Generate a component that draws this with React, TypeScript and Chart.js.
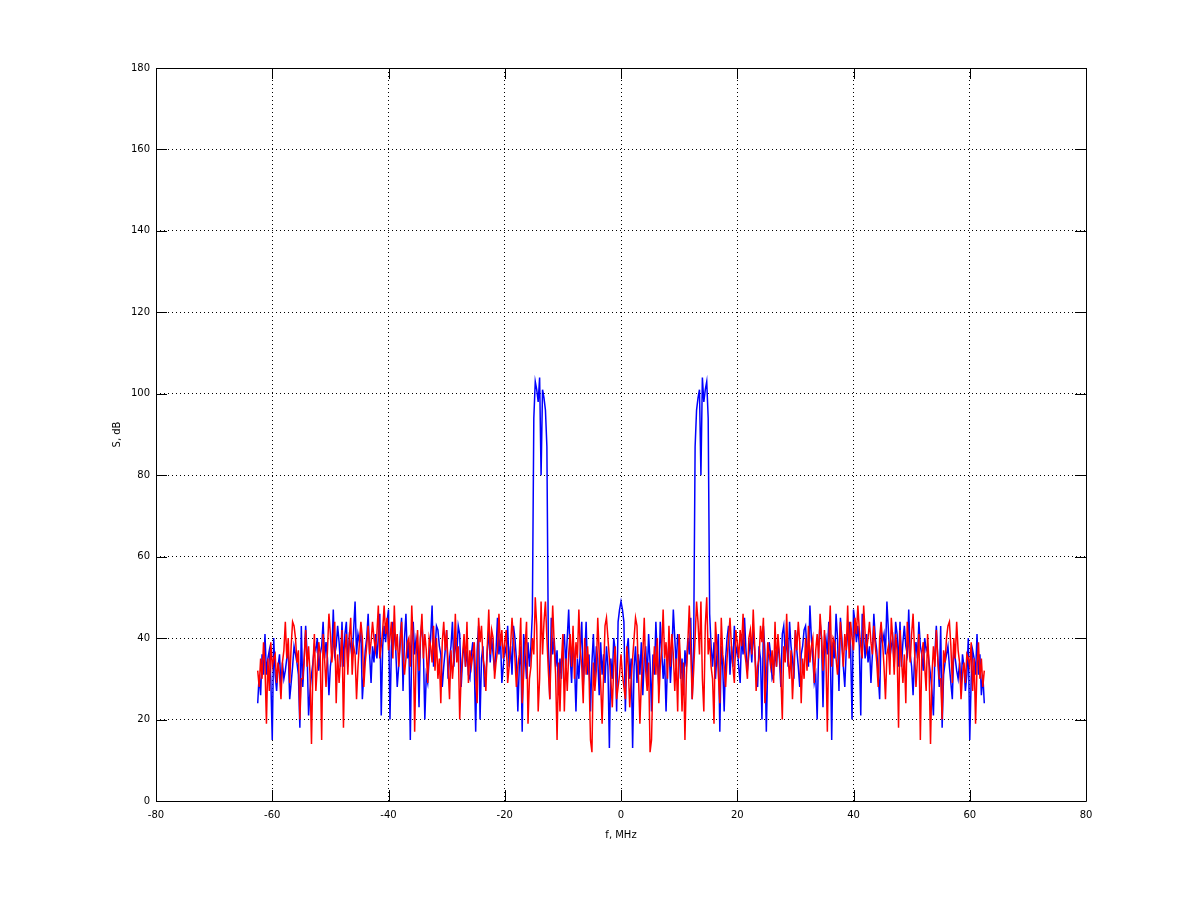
import React, { useEffect, useRef } from 'react';
import { Chart, registerables } from 'chart.js';

Chart.register(...registerables);

// spacing between spectrum samples, MHz
const FREQ_STEP = 0.25;
const X_TICKS = [-80, -60, -40, -20, 0, 20, 40, 60, 80];
const Y_TICKS = [0, 20, 40, 60, 80, 100, 120, 140, 160, 180];
const X_LABEL = 'f, MHz';
const Y_LABEL = 'S, dB';

// spectrum levels (dB) from 0 to +62.5 MHz, 20 samples per 5 MHz row;
// the plotted spectrum is mirror-symmetric about 0 MHz
const blueHalf = [
  49, 47, 44, 22, 37, 40, 30, 35, 13, 33, 38, 29, 36, 31, 39, 26, 35, 38, 30, 41,
  34, 22, 36, 31, 44, 35, 28, 44, 37, 30, 35, 22, 34, 39, 29, 36, 47, 40, 33, 41,
  38, 30, 35, 26, 37, 33, 40, 36, 45, 25, 38, 87, 96, 99, 101, 80, 104, 98, 101, 103,
  94, 46, 38, 33, 39, 30, 36, 41, 17, 38, 33, 22, 35, 40, 43, 31, 38, 33, 43, 36,
  38, 33, 29, 41, 36, 45, 37, 32, 36, 40, 34, 42, 37, 31, 28, 38, 35, 20, 43, 37,
  17, 34, 39, 36, 30, 31, 37, 33, 39, 35, 28, 41, 43, 36, 40, 33, 44, 38, 35, 30,
  42, 37, 33, 28, 36, 38, 42, 43, 37, 33, 48, 40, 35, 29, 31, 20, 37, 44, 40, 23,
  38, 40, 36, 44, 38, 15, 39, 35, 46, 40, 27, 45, 40, 33, 28, 37, 41, 44, 38, 20,
  47, 44, 39, 43, 38, 21, 46, 40, 35, 41, 34, 38, 29, 36, 46, 40, 37, 31, 25, 42,
  39, 41, 36, 49, 42, 35, 38, 40, 33, 44, 41, 33, 44, 33, 39, 43, 38, 36, 47, 36,
  33, 26, 35, 39, 35, 44, 38, 36, 32, 40, 37, 38, 34, 31, 27, 21, 36, 43, 35, 28,
  43, 18, 31, 34, 36, 38, 33, 29, 25, 37, 35, 32, 30, 34, 28, 36, 33, 27, 31, 40,
  15, 30, 37, 35, 31, 41, 31, 36, 26, 31, 24,
];

const redHalf = [
  36, 31, 28, 25, 38, 33, 23, 30, 35, 40, 45, 43, 31, 19, 29, 36, 45, 32, 27, 34,
  12, 15, 31, 38, 31, 40, 24, 33, 37, 47, 35, 39, 30, 43, 33, 41, 36, 27, 35, 22,
  41, 34, 22, 34, 15, 31, 39, 48, 37, 25, 32, 40, 49, 44, 36, 49, 30, 22, 43, 50,
  36, 40, 33, 30, 19, 44, 38, 31, 24, 45, 36, 33, 28, 35, 40, 45, 38, 33, 29, 42,
  39, 35, 42, 38, 46, 37, 34, 30, 40, 42, 36, 47, 38, 27, 33, 35, 43, 39, 45, 24,
  30, 39, 36, 33, 37, 29, 44, 33, 41, 36, 31, 20, 38, 34, 46, 35, 30, 37, 25, 33,
  42, 37, 44, 39, 24, 35, 30, 40, 32, 43, 34, 38, 40, 29, 37, 41, 35, 46, 40, 32,
  42, 36, 17, 39, 48, 33, 40, 39, 35, 31, 36, 44, 38, 33, 41, 37, 48, 35, 44, 40,
  37, 45, 41, 48, 42, 38, 35, 48, 41, 37, 40, 44, 39, 36, 43, 38, 34, 28, 40, 44,
  39, 33, 25, 36, 38, 31, 45, 40, 31, 41, 37, 18, 42, 35, 29, 36, 24, 44, 38, 34,
  41, 46, 37, 28, 35, 41, 15, 36, 39, 33, 27, 41, 33, 14, 31, 38, 33, 42, 35, 30,
  30, 20, 37, 34, 40, 43, 44, 38, 29, 40, 35, 44, 37, 34, 25, 31, 34, 29, 36, 35,
  33, 39, 27, 35, 19, 33, 39, 30, 35, 28, 32,
];

// negative frequencies first, then 0..+62.5
function mirrorSpectrum(half: number[]) {
  const pts: { x: number; y: number }[] = [];
  for (let i = half.length - 1; i > 0; i--) pts.push({ x: -i * FREQ_STEP, y: half[i] });
  for (let i = 0; i < half.length; i++) pts.push({ x: i * FREQ_STEP, y: half[i] });
  return pts;
}

const FONT = { family: "'DejaVu Sans', sans-serif", size: 10 };
const TICK_LEN = 11;

// solid box with inward tick marks on all four sides (octave look)
const framePlugin = {
  id: 'frame',
  afterDraw(chart: Chart) {
    const { ctx, chartArea, scales } = chart;
    const { left, right, top, bottom } = chartArea;
    ctx.save();
    ctx.strokeStyle = '#000';
    ctx.lineWidth = 1;
    ctx.beginPath();
    ctx.rect(left + 0.5, top + 0.5, right - left, bottom - top);
    X_TICKS.forEach((v) => {
      const x = Math.round(scales.x.getPixelForValue(v)) + 0.5;
      ctx.moveTo(x, bottom);
      ctx.lineTo(x, bottom - TICK_LEN);
      ctx.moveTo(x, top);
      ctx.lineTo(x, top + TICK_LEN);
    });
    Y_TICKS.forEach((v) => {
      const y = Math.round(scales.y.getPixelForValue(v)) + 0.5;
      ctx.moveTo(left, y);
      ctx.lineTo(left + TICK_LEN, y);
      ctx.moveTo(right, y);
      ctx.lineTo(right - TICK_LEN, y);
    });
    ctx.stroke();
    ctx.restore();
  },
};

const SpectrumChart: React.FC = () => {
  const chartRef = useRef<HTMLCanvasElement>(null);
  const chartInstance = useRef<Chart | null>(null);

  useEffect(() => {
    if (!chartRef.current) return;
    if (chartInstance.current) chartInstance.current.destroy();

    chartInstance.current = new Chart(chartRef.current, {
      type: 'line',
      data: {
        datasets: [
          {
            label: 'blue',
            data: mirrorSpectrum(blueHalf),
            borderColor: '#0000ff',
            borderWidth: 1.5,
            pointRadius: 0,
            tension: 0,
            order: 1,
          },
          {
            label: 'red',
            data: mirrorSpectrum(redHalf),
            borderColor: '#ff0000',
            borderWidth: 1.5,
            pointRadius: 0,
            tension: 0,
            order: 0,
          },
        ],
      },
      options: {
        animation: false,
        responsive: false,
        devicePixelRatio: 1,
        layout: { padding: { left: 0, right: 114, top: 68, bottom: 0 } },
        plugins: {
          legend: { display: false },
          tooltip: { enabled: false },
        },
        scales: {
          x: {
            type: 'linear',
            min: -80,
            max: 80,
            afterFit: (scale: any) => {
              scale.height = 100;
            },
            afterBuildTicks: (scale: any) => {
              scale.ticks = X_TICKS.map((value) => ({ value }));
            },
            ticks: { color: '#000', font: FONT, padding: 8, maxRotation: 0 },
            grid: { color: '#000', lineWidth: 1, drawTicks: false },
            border: { display: false, dash: [1, 3] },
            title: {
              display: true,
              text: X_LABEL,
              color: '#000',
              font: FONT,
              padding: { top: 0, bottom: 60 },
            },
          },
          y: {
            type: 'linear',
            min: 0,
            max: 180,
            afterFit: (scale: any) => {
              scale.width = 156;
            },
            afterBuildTicks: (scale: any) => {
              scale.ticks = Y_TICKS.map((value) => ({ value }));
            },
            ticks: { color: '#000', font: FONT, padding: 6 },
            grid: { color: '#000', lineWidth: 1, drawTicks: false },
            border: { display: false, dash: [1, 3] },
            title: {
              display: true,
              text: Y_LABEL,
              color: '#000',
              font: FONT,
              padding: { top: 111, bottom: 0 },
            },
          },
        },
      },
      plugins: [framePlugin],
    });

    return () => {
      if (chartInstance.current) {
        chartInstance.current.destroy();
        chartInstance.current = null;
      }
    };
  }, []);

  return <canvas ref={chartRef} width={1200} height={901}></canvas>;
};

export default function App() {
  return (
    <div style={{ position: 'fixed', left: 0, top: 0, width: 1200, height: 901, background: '#fff' }}>
      <SpectrumChart />
    </div>
  );
}
